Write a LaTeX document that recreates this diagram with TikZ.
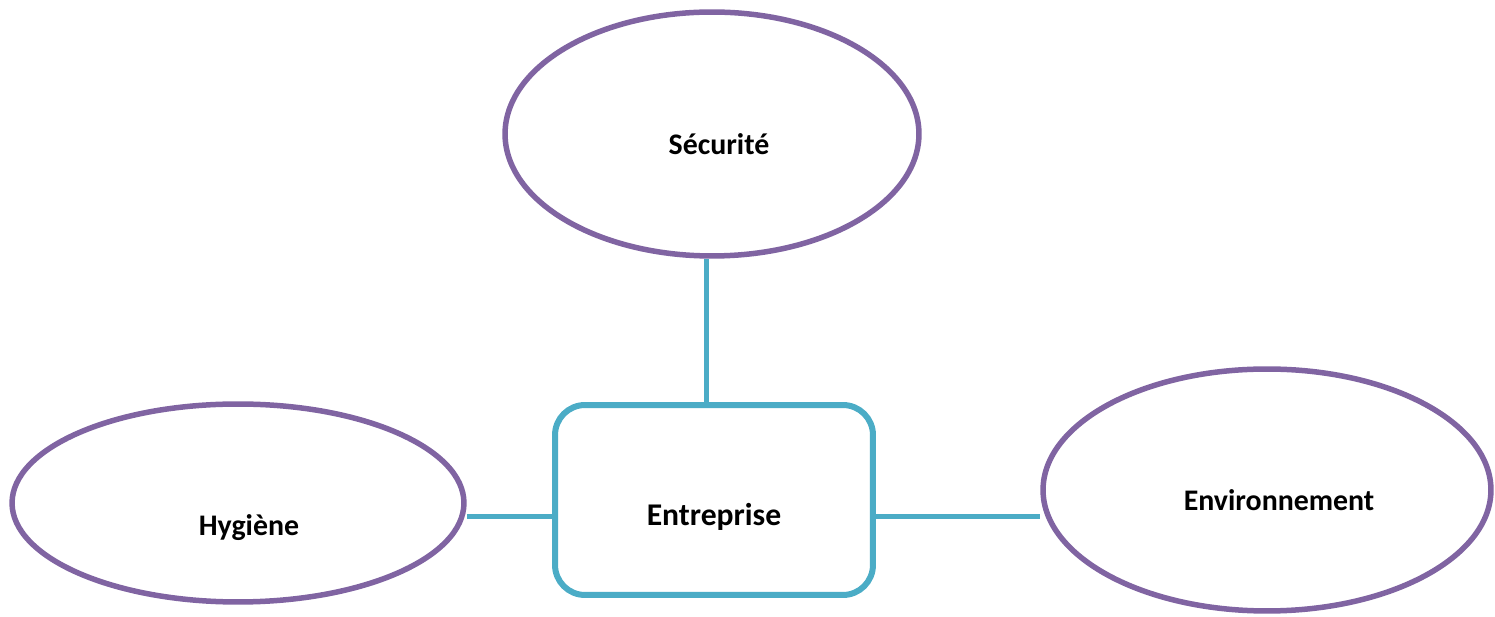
\documentclass[tikz,border=0pt]{standalone}
\usepackage{fontspec}
\setmainfont{Carlito}
\usetikzlibrary{shapes.geometric}
\definecolor{themepurple}{HTML}{8064A2}
\definecolor{themeteal}{HTML}{4BACC6}

\begin{document}
\begin{tikzpicture}[x=0.02cm,y=-0.02cm]
    \tikzset{
      topic/.style={ellipse,draw=themepurple,line width=0.11cm,fill=white,inner sep=0pt},
      topictext/.style={font=\fontsize{17pt}{20pt}\selectfont\bfseries},
      core/.style={rectangle,rounded corners=0.6cm,draw=themeteal,line width=0.12cm,fill=white,
        minimum width=6.36cm,minimum height=3.8cm},
      coretext/.style={font=\fontsize{18pt}{22pt}\selectfont\bfseries},
      link/.style={draw=themeteal,line width=0.1cm}
    }
    \useasboundingbox (0,0) rectangle (1495,617);
    % the three themes
    \node [topic,minimum width=8.28cm,minimum height=4.88cm,
      label={[topictext,shift={(7,10)}]center:Sécurité}] (secu) at (712,134) {};
    \node [topic,minimum width=9.04cm,minimum height=3.96cm,
      label={[topictext,shift={(11,25)}]center:Hygiène}] (hyg) at (238,503) {};
    \node [topic,minimum width=8.96cm,minimum height=4.84cm,
      label={[topictext,shift={(12,10)}]center:Environnement}] (env) at (1267,490) {};
    % the centre
    \node [core,label={[coretext,shift={(0,17)}]center:Entreprise}] (ent) at (714,500) {};
    % links
    \draw [link] (ent.north -| 706,0) -- (secu.south -| 706,0);
    \draw [link] (ent.west |- 0,517) -- (hyg.east |- 0,517);
    \draw [link] (ent.east |- 0,517) -- (env.west |- 0,517);
\end{tikzpicture}
\end{document}
